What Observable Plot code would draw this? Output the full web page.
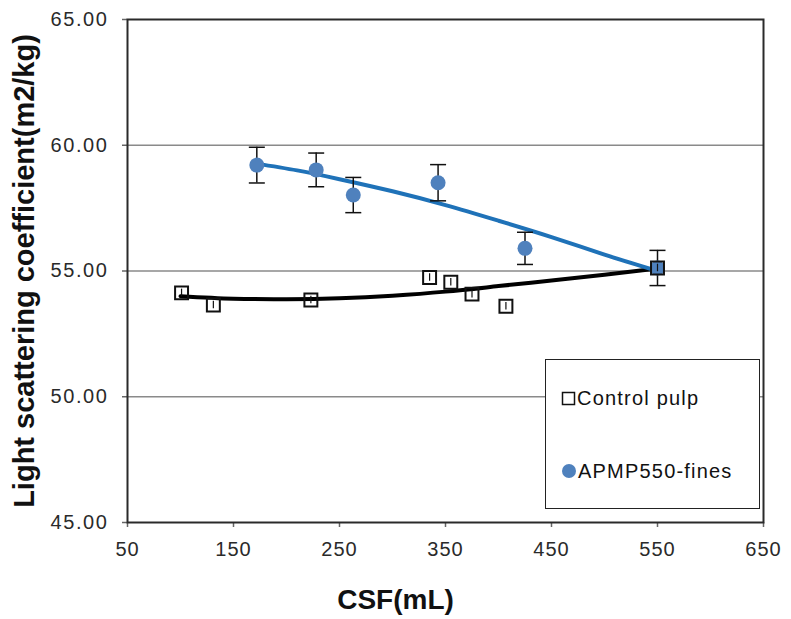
<!DOCTYPE html>
<html>
<head>
<meta charset="utf-8">
<script src="https://cdn.jsdelivr.net/npm/d3@7"></script>
<script src="https://cdn.jsdelivr.net/npm/@observablehq/plot@0.6"></script>
<style>
  body { margin: 0; background: #fff; }
  #wrap { position: relative; width: 791px; height: 619px; font-family: "Liberation Sans", Arial, sans-serif; }
  #legend { position: absolute; left: 545px; top: 359px; width: 213px; height: 148px; border: 1.5px solid #222; background: #fff; }
  .item { position: absolute; left: 15px; font-size: 20px; letter-spacing: 1.2px; color: #111; display: flex; align-items: center; line-height: 20px; }
  .item svg { margin-right: 1px; }
  #xtitle { position: absolute; left: 0; width: 791px; top: 586px; text-align: center; font-size: 28px; font-weight: bold; line-height: 28px; color: #111; }
</style>
</head>
<body>
<div id="wrap"></div>
<script>
const xTicks = [50, 150, 250, 350, 450, 550, 650];
const yTicks = [45, 50, 55, 60, 65];
const gridTicks = [50, 55, 60];
const xTitle = "CSF(mL)";
const yTitle = "Light scattering coefficient(m2/kg)";
const seriesNames = ["Control pulp", "APMP550-fines"];

const controlX = [101, 131, 223, 335, 355, 375, 407, 550];
const controlY = [54.13, 53.65, 53.85, 54.74, 54.55, 54.08, 53.6, 55.12];
const controlErr = [0.15, 0.15, 0.15, 0.15, 0.15, 0.15, 0.15, 0.15];

const finesX = [172, 228, 263, 343, 425, 550];
const finesY = [59.21, 59.02, 58.02, 58.51, 55.9, 55.12];
const finesErr = [0.71, 0.67, 0.70, 0.72, 0.64, 0.70];

// trendlines
const finesTrendX = [170, 210, 250, 300, 350, 400, 450, 500, 550];
const finesTrendY = [59.28, 59.0, 58.65, 58.17, 57.62, 57.0, 56.35, 55.65, 55.0];
const controlTrendX = [100, 150, 200, 250, 300, 350, 400, 450, 500, 550];
const controlTrendY = [54.0, 53.9, 53.88, 53.92, 54.02, 54.18, 54.4, 54.62, 54.85, 55.1];

const control = controlX.map((x, i) => ({x, y: controlY[i], e: controlErr[i]}));
const fines = finesX.map((x, i) => ({x, y: finesY[i], e: finesErr[i]}));
const finesTrend = finesTrendX.map((x, i) => ({x, y: finesTrendY[i]}));
const controlTrend = controlTrendX.map((x, i) => ({x, y: controlTrendY[i]}));

const cap = (half) => ({draw(ctx) { ctx.moveTo(-half, 0); ctx.lineTo(half, 0); }});

const chart = Plot.plot({
  width: 791,
  height: 619,
  marginLeft: 127,
  marginRight: 28,
  marginTop: 19,
  marginBottom: 97,
  style: {fontFamily: '"Liberation Sans", Arial, sans-serif', background: "#fff"},
  x: {domain: [50, 650]},
  y: {domain: [45, 65]},
  marks: [
    Plot.gridY(gridTicks, {stroke: "#8a8a8a", strokeOpacity: 1, strokeWidth: 1.5}),
    Plot.axisY(yTicks, {
      tickFormat: d3.format(".2f"), tickSize: 5, tickPadding: 14, fontSize: 20, color: "#2a2a2a",
      stroke: "#666", strokeWidth: 1.5,
      label: yTitle, labelAnchor: "center", labelArrow: "none", labelOffset: 114
    }),
    Plot.axisX(xTicks, {
      tickFormat: d => String(d), tickSize: 5, tickPadding: 14, fontSize: 20, color: "#2a2a2a",
      stroke: "#666", strokeWidth: 1.5, label: null
    }),
    Plot.frame({stroke: "#2a2a2a", strokeWidth: 2}),
    Plot.line(controlTrend, {x: "x", y: "y", stroke: "#000", strokeWidth: 4, curve: "natural"}),
    Plot.line(finesTrend, {x: "x", y: "y", stroke: "#1f72b8", strokeWidth: 4, curve: "natural"}),
    Plot.ruleX(fines, {x: "x", y1: d => d.y - d.e, y2: d => d.y + d.e, stroke: "#111", strokeWidth: 1.5}),
    Plot.dot(fines, {x: "x", y: d => d.y - d.e, symbol: cap(8), r: 8, stroke: "#111", strokeWidth: 1.5}),
    Plot.dot(fines, {x: "x", y: d => d.y + d.e, symbol: cap(8), r: 8, stroke: "#111", strokeWidth: 1.5}),
    Plot.dot(fines, {x: "x", y: "y", r: 7.5, fill: "#4f81bd", stroke: "none"}),
    Plot.ruleX(control, {x: "x", y1: d => d.y - d.e, y2: d => d.y + d.e, stroke: "#111", strokeWidth: 1.2}),
    Plot.dot(control, {x: "x", y: "y", symbol: "square", r: 7.3, fill: "none", stroke: "#111", strokeWidth: 2})
  ]
});

const wrap = document.getElementById("wrap");
wrap.appendChild(chart);
chart.querySelectorAll("g[aria-label='y-axis label'] text").forEach(t => {
  t.setAttribute("font-weight", "bold");
  t.setAttribute("font-size", "29");
  t.setAttribute("fill", "#111");
});
chart.querySelectorAll("g[aria-label='y-axis tick label'] text").forEach(t => t.setAttribute("letter-spacing", "1.6"));
chart.querySelectorAll("g[aria-label='x-axis tick label'] text").forEach(t => t.setAttribute("letter-spacing", "1"));

const xt = document.createElement("div");
xt.id = "xtitle";
xt.textContent = xTitle;
wrap.appendChild(xt);

const legend = document.createElement("div");
legend.id = "legend";
legend.innerHTML = `
  <div class="item" style="top:28px"><svg width="15" height="15"><rect x="1.5" y="1.5" width="12" height="12" fill="none" stroke="#111" stroke-width="1.5"/></svg>${seriesNames[0]}</div>
  <div class="item" style="top:101px"><svg width="16" height="16"><circle cx="8" cy="8" r="7" fill="#4f81bd"/></svg>${seriesNames[1]}</div>`;
wrap.appendChild(legend);
</script>
</body>
</html>
